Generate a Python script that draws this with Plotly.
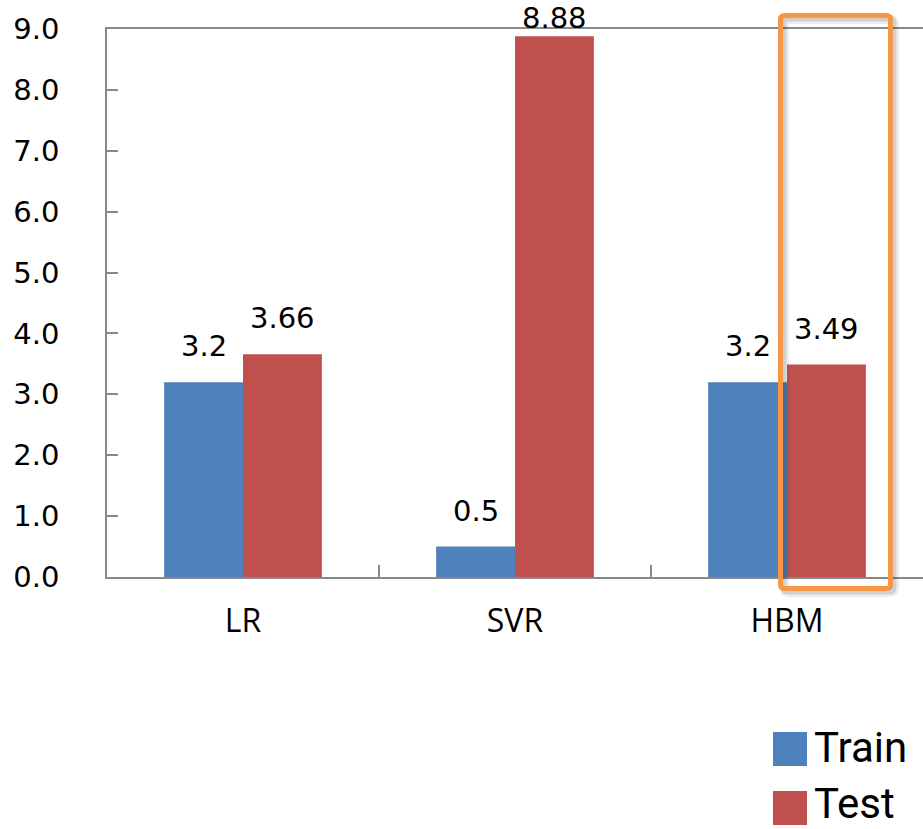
import plotly.graph_objects as go

# Chart data
categories = ["LR", "SVR", "HBM"]
train_values = [3.2, 0.5, 3.2]
test_values = [3.66, 8.88, 3.49]
train_labels = ["3.2", "0.5", "3.2"]
test_labels = ["3.66", "8.88", "3.49"]
y_ticks = [0, 1, 2, 3, 4, 5, 6, 7, 8, 9]

BLUE = "#4F81BD"
RED = "#C0504D"
ORANGE = "#F79646"
AXIS = "#898989"

W, H = 923, 829
ML, MR, MT, MB = 107, 0, 29, 252
PW, PH = W - ML - MR, H - MT - MB
Y_MAX = 9
PPU = PH / Y_MAX  # pixels per y unit
BARGAP = 0.42
OFFSET = (1 - BARGAP) / 4  # centre offset of each bar inside a group

NUM_FONT = "DejaVu Sans"
CAT_FONT = "Open Sans"
LEG_FONT = "Roboto"


def px_x(px):
    return (px - ML) / PW


def px_y(py):
    return (MT + PH - py) / PH


def rounded_rect(x0, y0, x1, y1, r):
    """SVG path (paper units) of a rectangle with rounded corners, pixel input."""
    pts = [
        f"M {px_x(x0 + r)},{px_y(y0)}",
        f"L {px_x(x1 - r)},{px_y(y0)}",
        f"Q {px_x(x1)},{px_y(y0)} {px_x(x1)},{px_y(y0 + r)}",
        f"L {px_x(x1)},{px_y(y1 - r)}",
        f"Q {px_x(x1)},{px_y(y1)} {px_x(x1 - r)},{px_y(y1)}",
        f"L {px_x(x0 + r)},{px_y(y1)}",
        f"Q {px_x(x0)},{px_y(y1)} {px_x(x0)},{px_y(y1 - r)}",
        f"L {px_x(x0)},{px_y(y0 + r)}",
        f"Q {px_x(x0)},{px_y(y0)} {px_x(x0 + r)},{px_y(y0)}",
        "Z",
    ]
    return " ".join(pts)


fig = go.Figure()
fig.add_trace(go.Bar(name="Train", x=categories, y=train_values,
                     marker=dict(color=BLUE, line=dict(width=0))))
fig.add_trace(go.Bar(name="Test", x=categories, y=test_values,
                     marker=dict(color=RED, line=dict(width=0))))

# Value labels above the bars, kept inside the plot area for tall bars
annotations = []
for series, labels, sign in ((train_values, train_labels, -1),
                             (test_values, test_labels, 1)):
    for i, (v, lab) in enumerate(zip(series, labels)):
        gap = min(25, (Y_MAX - v) * PPU)
        annotations.append(dict(
            x=i + sign * OFFSET, y=v, xref="x", yref="y",
            text=lab, showarrow=False, yanchor="bottom",
            yshift=gap - 8,
            font=dict(family=NUM_FONT, size=29, color="#000000"),
        ))

# Legend drawn as large swatches with labels (text box bottom, swatch top)
legend_items = [("Train", BLUE, 732, 773), ("Test", RED, 791, 829)]
shapes = []
for name, color, top, text_bottom in legend_items:
    shapes.append(dict(type="rect", xref="paper", yref="paper",
                       x0=px_x(773), x1=px_x(807), y0=px_y(top + 34), y1=px_y(top),
                       fillcolor=color, line=dict(width=0), layer="above"))
    annotations.append(dict(
        x=px_x(813), y=px_y(text_bottom), xref="paper", yref="paper",
        text=name, showarrow=False, xanchor="left", yanchor="bottom",
        borderpad=0,
        font=dict(family=LEG_FONT, size=42, color="#000000"),
    ))

# Highlight box around the HBM test bar, with a soft drop shadow
for dx, lw, alpha in ((4, 9, 0.07), (3, 6, 0.12)):
    shapes.append(dict(type="path", xref="paper", yref="paper",
                       path=rounded_rect(780.5 + dx, 15.5 + dx, 890.5 + dx, 588.5 + dx, 4),
                       line=dict(color=f"rgba(0,0,0,{alpha})", width=lw),
                       layer="above"))
shapes.append(dict(type="path", xref="paper", yref="paper",
                   path=rounded_rect(780.5, 15.5, 890.5, 588.5, 4),
                   line=dict(color=ORANGE, width=5), layer="above"))

fig.update_layout(
    width=W, height=H,
    margin=dict(l=ML, r=MR, t=MT, b=MB, pad=0),
    paper_bgcolor="white", plot_bgcolor="white",
    barmode="group", bargap=BARGAP, bargroupgap=0,
    showlegend=False,
    annotations=annotations, shapes=shapes,
    xaxis=dict(
        type="category", range=[-0.5, 2.5],
        showline=True, linecolor=AXIS, linewidth=1.5, mirror=True,
        ticks="inside", tickson="boundaries", ticklen=12,
        tickcolor=AXIS, tickwidth=1.5,
        showgrid=False, zeroline=False,
        tickfont=dict(family=CAT_FONT, size=32, color="#000000"),
        ticklabelstandoff=15,
    ),
    yaxis=dict(
        range=[0, Y_MAX], tickvals=y_ticks,
        ticktext=[f"{t:.1f}" for t in y_ticks],
        showline=True, linecolor=AXIS, linewidth=1.5,
        ticks="inside", ticklen=11, tickcolor=AXIS, tickwidth=1.5,
        showgrid=False, zeroline=False,
        tickfont=dict(family=NUM_FONT, size=29, color="#000000"),
        ticklabelstandoff=40,
    ),
)

fig.write_html("out.html")
